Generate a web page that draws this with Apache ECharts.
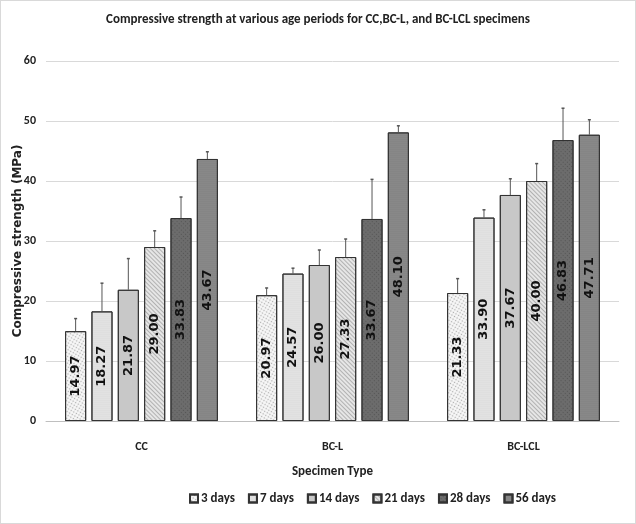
<!DOCTYPE html>
<html><head><meta charset="utf-8">
<script src="https://cdn.jsdelivr.net/npm/echarts@6/dist/echarts.min.js"></script>
<style>html,body{margin:0;padding:0;background:#fff}#c{width:634px;height:522px;border:1px solid #d9d9d9}</style>
</head><body><div id="c"></div>
<script>
const categories = ['CC', 'BC-L', 'BC-LCL'];
const ages = ['3 days', '7 days', '14 days', '21 days', '28 days', '56 days'];
const d3  = [14.97, 20.97, 21.33];
const d7  = [18.27, 24.57, 33.90];
const d14 = [21.87, 26.00, 37.67];
const d21 = [29.00, 27.33, 40.00];
const d28 = [33.83, 33.67, 46.83];
const d56 = [43.67, 48.10, 47.71];
const e3  = [2.1, 1.2, 2.4];
const e7  = [4.7, 0.9, 1.3];
const e14 = [5.2, 2.5, 2.7];
const e21 = [2.7, 3.0, 2.9];
const e28 = [3.5, 6.6, 5.3];
const e56 = [1.2, 1.1, 2.5];
const yTicks = [0, 10, 20, 30, 40, 50, 60];

const values = [d3, d7, d14, d21, d28, d56];
const errs = [e3, e7, e14, e21, e28, e56];
const colors = ['#f7f7f7', '#ececec', '#c8c8c8', '#e6e6e6', '#6c6c6c', '#7e7e7e'];
const decals = [
  {symbol:'circle', symbolSize:0.5, dashArrayX:[3,0], dashArrayY:[3,0], color:'rgba(0,0,0,0.3)'},
  {symbol:'circle', symbolSize:0.5, dashArrayX:[2,0], dashArrayY:[2,0], color:'rgba(0,0,0,0.25)'},
  {symbol:'rect', symbolSize:1, dashArrayX:[1,2], dashArrayY:[0], color:'rgba(60,60,60,0.45)'},
  {symbol:'rect', symbolSize:1, dashArrayX:[[1,0],[1,0]], dashArrayY:[1,2], rotation:0.785, color:'rgba(80,80,80,0.35)'},
  {symbol:'circle', symbolSize:0.4, dashArrayX:[3,0], dashArrayY:[3,0], color:'rgba(0,0,0,0.25)'},
  {symbol:'circle', symbolSize:0.6, dashArrayX:[2,0], dashArrayY:[2,0], color:'rgba(255,255,255,0.3)'}
];
const catGap = 0.2, barGap = 0.25;
const narrow = 'Carlito, "Liberation Sans"';

const barSeries = ages.map((a, i) => ({
  name: a, type: 'bar', data: values[i],
  barCategoryGap: '20%', barGap: '25%',
  itemStyle: {color: colors[i], borderColor: '#333', borderWidth: 1, decal: decals[i]},
  label: {show: true, position: 'inside', rotate: 90, formatter: p => p.value.toFixed(2),
    fontFamily: 'DejaVu Sans', fontSize: 13, color: '#111', fontWeight: 'bold'},
  z: 2
}));

const errData = [];
for (let i = 0; i < 6; i++) for (let c = 0; c < 3; c++) errData.push([c, values[i][c], errs[i][c], i]);

const errSeries = {
  type: 'custom', data: errData, z: 5, silent: true,
  renderItem: function (params, api) {
    const c = api.value(0), v = api.value(1), e = api.value(2), i = api.value(3);
    const W = api.size([1, 0])[0];
    const b = W * (1 - catGap) / (6 + 5 * barGap);
    const group = 6 * b + 5 * barGap * b;
    const center = api.coord([c, 0])[0];
    const x = center - group / 2 + b / 2 + i * b * (1 + barGap);
    const y0 = api.coord([c, v])[1];
    const y1 = api.coord([c, v + e])[1];
    return {type: 'group', children: [
      {type: 'line', shape: {x1: x, y1: y0, x2: x, y2: y1}, style: {stroke: '#555', lineWidth: 1}},
      {type: 'line', shape: {x1: x - 1.5, y1: y1, x2: x + 1.5, y2: y1}, style: {stroke: '#555', lineWidth: 1.5}}
    ]};
  }
};

const chart = echarts.init(document.getElementById('c'));
chart.setOption({
  animation: false,
  aria: {enabled: true, decal: {show: true}},
  title: {text: 'Compressive strength at various age periods for CC,BC-L, and BC-LCL specimens',
    left: 'center', top: 7,
    textStyle: {fontFamily: narrow, fontSize: 13, fontWeight: 'bold', color: '#222'}},
  legend: {data: ages, bottom: 13, left: 183, icon: 'rect', itemWidth: 8, itemHeight: 8, itemGap: 13,
    textStyle: {fontFamily: narrow, fontSize: 13, fontWeight: 'bold', color: '#222', padding: [0, 0, 0, -2]}},
  grid: {left: 45, right: 16, top: 60, bottom: 102, outerBoundsMode: 'none', containLabel: false},
  xAxis: {type: 'category', data: categories,
    name: 'Specimen Type', nameLocation: 'middle', nameGap: 44,
    nameTextStyle: {fontFamily: narrow, fontSize: 13, fontWeight: 'bold', color: '#222'},
    axisLine: {lineStyle: {color: '#bfbfbf'}}, axisTick: {show: false},
    axisLabel: {fontFamily: narrow, fontSize: 12, fontWeight: 'bold', color: '#222', margin: 20}},
  yAxis: {type: 'value', min: yTicks[0], max: yTicks[yTicks.length - 1], interval: 10,
    name: 'Compressive strength (MPa)', nameLocation: 'middle', nameGap: 22, nameMoveOverlap: false,
    nameTextStyle: {fontFamily: 'DejaVu Sans', fontSize: 12, fontWeight: 'bold', color: '#222'},
    axisLine: {show: false}, axisTick: {show: false},
    splitLine: {lineStyle: {color: '#d9d9d9'}},
    axisLabel: {fontFamily: narrow, fontSize: 12, fontWeight: 'bold', color: '#222', margin: 10}},
  series: [...barSeries, errSeries]
});
</script></body></html>
